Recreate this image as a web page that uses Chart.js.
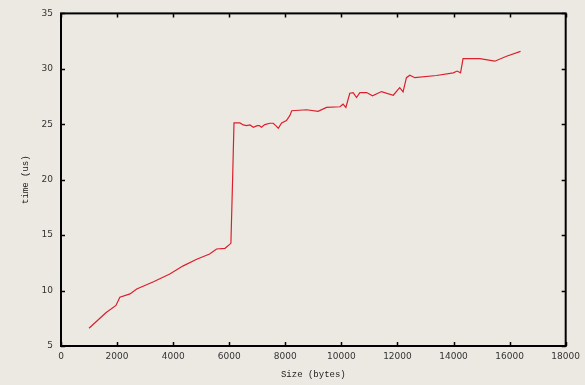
<!DOCTYPE html>
<html>
<head>
<meta charset="utf-8">
<script src="https://cdn.jsdelivr.net/npm/chart.js@4"></script>
<style>
  html, body { margin: 0; padding: 0; background: #ece9e2; }
  #wrap { width: 585px; height: 385px; }
</style>
</head>
<body>
<div id="wrap"><canvas id="grafico" width="585" height="385"></canvas></div>
<script>
// tamanho do bloco (bytes) e tempo medido (us)
const sizes = [1000, 1300, 1600, 1960, 2100, 2460, 2700, 3300, 3880, 4360, 4840, 5300, 5550, 5850,
  6060, 6120, 6170, 6380, 6500, 6620, 6740, 6860, 7000, 7070, 7150, 7270, 7450, 7570, 7660, 7750,
  7870, 8040, 8160, 8230, 8760, 9170, 9470,
  9950, 10060, 10160, 10300, 10420, 10540, 10660, 10900, 11110, 11430, 11850, 12080, 12200, 12320,
  12440, 12620, 13390, 13990, 14130, 14250, 14340, 14940, 15470, 15890, 16390];
const times = [6.6, 7.3, 8.0, 8.66, 9.4, 9.7, 10.15, 10.8, 11.49, 12.23, 12.83, 13.3, 13.75, 13.81,
  14.26, 20.0, 25.12, 25.12, 24.94, 24.88, 24.94, 24.73, 24.88, 24.88, 24.73, 24.97, 25.09, 25.09, 24.88, 24.64,
  25.12, 25.33, 25.78, 26.22, 26.31, 26.16, 26.52,
  26.58, 26.81, 26.52, 27.8, 27.86, 27.41, 27.86, 27.86, 27.56, 27.95, 27.62, 28.3, 27.92, 29.2,
  29.43, 29.2, 29.4, 29.64, 29.8, 29.64, 30.92, 30.92, 30.69, 31.13, 31.58];

const xTicks = [0, 2000, 4000, 6000, 8000, 10000, 12000, 14000, 16000, 18000];
const yTicks = [5, 10, 15, 20, 25, 30, 35];

// moldura e marcas de escala para dentro, como no gnuplot
const moldura = {
  id: "moldura",
  afterDraw(chart) {
    const ctx = chart.ctx;
    const a = chart.chartArea;
    const sx = chart.scales.x, sy = chart.scales.y;
    ctx.save();
    ctx.strokeStyle = "#000";
    ctx.lineWidth = 1.5;
    ctx.beginPath();
    xTicks.forEach(v => {
      const px = Math.round(sx.getPixelForValue(v)) + 0.5;
      ctx.moveTo(px, a.bottom); ctx.lineTo(px, a.bottom - 4);
      ctx.moveTo(px, a.top); ctx.lineTo(px, a.top + 4);
    });
    yTicks.forEach(v => {
      const py = Math.round(sy.getPixelForValue(v)) + 0.5;
      ctx.moveTo(a.left, py); ctx.lineTo(a.left + 4, py);
      ctx.moveTo(a.right, py); ctx.lineTo(a.right - 4, py);
    });
    ctx.stroke();
    ctx.lineWidth = 2;
    ctx.strokeRect(a.left, a.top, a.right - a.left, a.bottom - a.top);
    ctx.restore();
  }
};

new Chart(document.getElementById("grafico"), {
  type: "scatter",
  data: {
    datasets: [{
      data: sizes.map((s, i) => ({ x: s, y: times[i] })),
      showLine: true,
      borderColor: "#dc1f2c",
      borderWidth: 1.2,
      pointRadius: 0,
      tension: 0
    }]
  },
  options: {
    responsive: false,
    animation: false,
    layout: { padding: { top: 10, right: 19, left: 0, bottom: 0 } },
    plugins: { legend: { display: false }, tooltip: { enabled: false } },
    scales: {
      x: {
        type: "linear",
        min: 0, max: 18000,
        afterBuildTicks: s => { s.ticks = xTicks.map(v => ({ value: v })); },
        afterFit: s => { s.height = 39; },
        grid: { display: false, drawTicks: false },
        border: { display: false },
        ticks: {
          padding: 5, maxRotation: 0, autoSkip: false, color: "#333",
          font: { family: "DejaVu Sans", size: 9 },
          callback: v => String(v)
        },
        title: {
          display: true, text: "Size (bytes)", color: "#222",
          font: { family: "Liberation Mono", size: 9 },
          padding: { top: 0, bottom: 5 }
        }
      },
      y: {
        type: "linear",
        min: 5, max: 35,
        afterBuildTicks: s => { s.ticks = yTicks.map(v => ({ value: v })); },
        afterFit: s => { s.width = 61; },
        grid: { display: false, drawTicks: false },
        border: { display: false },
        ticks: {
          padding: 8, autoSkip: false, color: "#333",
          font: { family: "DejaVu Sans", size: 9 },
          callback: v => String(v)
        },
        title: {
          display: true, text: "time (us)", color: "#222",
          font: { family: "Liberation Mono", size: 9 },
          padding: { top: 20, bottom: 0 }
        }
      }
    }
  },
  plugins: [moldura]
});
</script>
</body>
</html>
